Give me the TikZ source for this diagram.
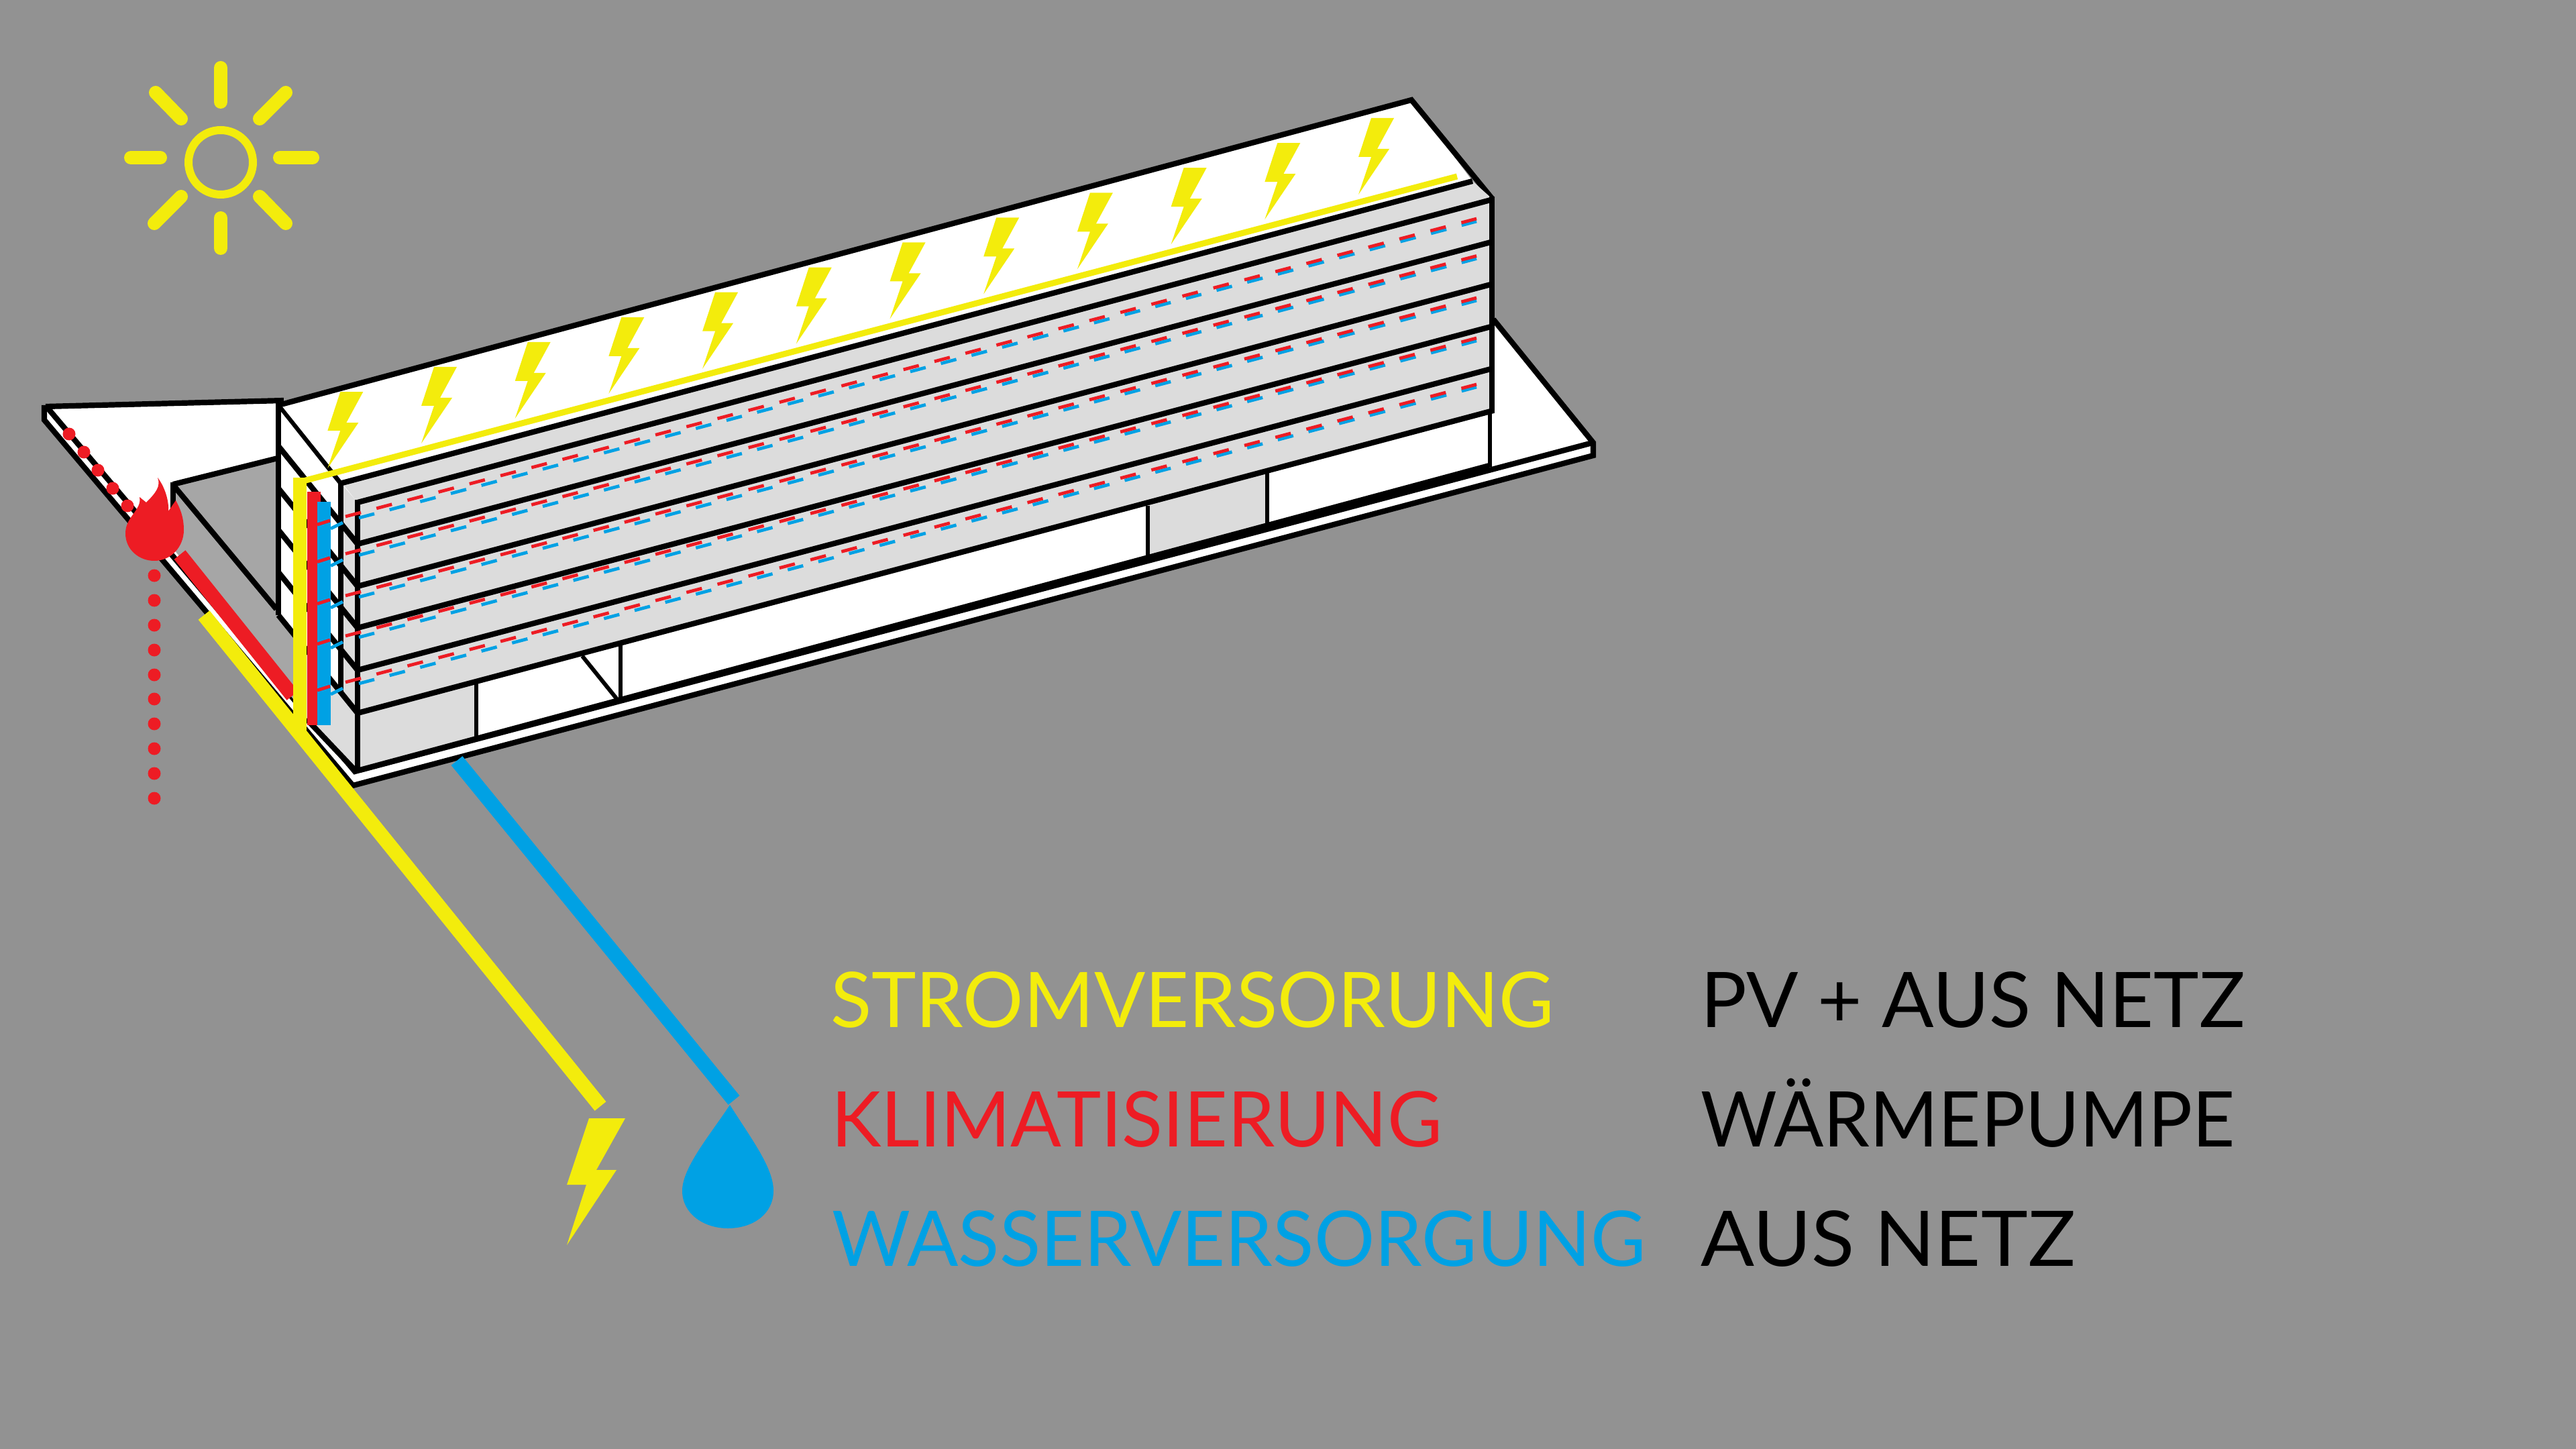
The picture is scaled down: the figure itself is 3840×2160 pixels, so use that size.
\documentclass[tikz,border=0pt]{standalone}
\usepackage{fontspec}
\usepackage{graphicx}
\setmainfont{Lato}
\definecolor{bgc}{RGB}{146,146,146}
\definecolor{yel}{RGB}{243,236,12}
\definecolor{redc}{RGB}{237,28,36}
\definecolor{blu}{RGB}{0,161,228}
\definecolor{flr}{RGB}{220,220,220}
\definecolor{yard}{RGB}{166,166,166}
\tikzset{
  ln/.style={draw=black,line width=2.05pt,line cap=butt,line join=miter},
  thin ln/.style={draw=black,line width=1.5pt},
  ray/.style={draw=yel,line width=5pt,line cap=round},
  pipe/.style={line width=5.4pt,line cap=butt},
  reddash/.style={draw=redc,line width=1.2pt,dash pattern=on 5.95pt off 5.995pt},
  bludash/.style={draw=blu,line width=1.2pt,dash pattern=on 5.95pt off 5.86pt},
  stub/.style={line width=1.2pt},
  lab/.style={anchor=base west,inner sep=0pt,outer sep=0pt}
}
\newcommand{\labtext}[2]{\resizebox{#1pt}{\height}{\fontsize{28.6pt}{30pt}\selectfont #2}}
\begin{document}
\begin{tikzpicture}[x=0.25pt,y=-0.25pt]
\useasboundingbox (0,0) rectangle (3840,2160);
\fill[bgc] (0,0) rectangle (3840,2160);

% sun
\draw[yel,line width=3pt] (329,242) circle (48);
\draw[ray] (329,101) -- (329,152);
\draw[ray] (329,325) -- (329,370);
\draw[ray] (195,235) -- (239,235);
\draw[ray] (417,235) -- (466,235);
\draw[ray] (232,138) -- (270,177);
\draw[ray] (426,138) -- (387,177);
\draw[ray] (230,333) -- (270,293);
\draw[ray] (426,333) -- (387,293);

% site slab
\fill[white] (68,606) -- (423,597) -- (2226,476) -- (2375,660) -- (2375,679) -- (526,1171) -- (66,626) -- cycle;
\draw[ln] (68,606) -- (423,597);
\draw[ln] (2226,476) -- (2375,660) -- (2375,679) -- (526,1171) -- (66,626) -- (66,604);
\draw[ln] (70,607) -- (529,1150) -- (2374,660);

% courtyard
\fill[yard] (258,722) -- (414,682) -- (414,916) -- (445,960) -- (445,1052) -- (260,820) -- cycle;
\draw[ln] (258,722) -- (414,683);
\draw[ln] (258,719) -- (258,775);
\draw[ln] (259,724) -- (412,908);

% left end of the building
\fill[white] (417,604) -- (508,720) -- (508,1032) -- (417,917) -- cycle;
\fill[flr] (508,720) -- (533,749) -- (533,1150) -- (457,1070) -- (436,941) -- (508,1032) -- cycle;
\fill[flr] (436,941) -- (508,1032) -- (457,1070) -- cycle;
\draw[ln] (415,597) -- (415,917);
\draw[ln] (415,602) -- (510,722);
\foreach \y in {811,874,936,999,1063}{
  \draw[ln] (415,{\y-146}) -- (533,\y);
}
\draw[ln] (508,720) -- (508,1032);
\draw[ln] (457,1072) -- (531,1150);

% roof
\fill[white] (416,600) -- (2104,149) -- (2195,270) -- (512,720) -- cycle;
\draw[ln] (415,604) -- (2104,149) -- (2225,297);
\fill[flr] (510,720) -- (2195,270) -- (2225,297) -- (533,749) -- cycle;
\draw[ln] (510,720) -- (2195,270);

% roof bolts
\foreach \i in {0,...,11}{
  \begin{scope}[shift={({2078-139.7*\i},{176+37.1*\i})}]
    \fill[yel] (0,0) -- (-34,0) -- (-53,58) -- (-34,58) -- (-53,114) -- (-7,46) -- (-25,46) -- cycle;
  \end{scope}
}

% facade
\fill[flr] (533,749) -- (2225,297) -- (2225,612) -- (533,1063) -- cycle;
\fill[white] (533,1063) -- (2222,612) -- (2222,694) -- (533,1149) -- cycle;
\fill[flr] (533,1063) -- (710,1016) -- (710,1101) -- (533,1149) -- cycle;
\fill[flr] (1711,752) -- (1889,703) -- (1889,783) -- (1711,831) -- cycle;
\foreach \a/\b in {749/297,811/360,874/423,936/486,999/549,1063/612}{
  \draw[ln] (533,\a) -- (2226,\b);
}
\draw[ln] (533,745) -- (533,1150);
\draw[ln] (2224,293) -- (2224,616);
\draw[ln] (536,1148) -- (2220,694);
\draw[thin ln] (710,1018) -- (710,1102);
\draw[thin ln] (925,961) -- (925,1045);
\draw[thin ln] (868,978) -- (922,1045);
\draw[thin ln] (1711,754) -- (1711,832);
\draw[thin ln] (1889,705) -- (1889,784);
\draw[thin ln] (2221,612) -- (2221,696);

% blue and red service lines on each floor
\foreach \d in {0,55.5,118,178,247}{
  \draw[bludash] (535,{772+\d}) -- (2201,{330+\d});
  \draw[reddash] (515,{770+\d}) -- (2201,{326+\d});
}

% heating feed and flame
\draw[redc,pipe] (268,827) -- (436,1037);
\foreach \p in {(103,647),(125,674),(146,701),(168,728),(190,754)}{
  \fill[redc] \p circle (9.5);
}
\foreach \y in {858,895,932,969,1006,1042,1079,1116,1153,1190}{
  \fill[redc] (230,\y) circle (9.5);
}
\fill[redc] (235,712) .. controls (240,725) and (232,735) .. (218,749)
  -- (208,741) .. controls (212,760) and (187,770) .. (187,795)
  .. controls (187,820) and (208,836) .. (230,836)
  .. controls (255,836) and (274,815) .. (274,790)
  .. controls (274,770) and (268,757) .. (262,746)
  -- (251,762) .. controls (252,745) and (245,725) .. (235,712) -- cycle;

% vertical risers
\fill[redc] (458,733) rectangle (478,1081);
\fill[blu] (473,748) rectangle (493,1081);
\foreach \d in {0,55.5,118,178,247}{
  \draw[redc,stub] (473,{782+\d}) -- (492,{776+\d});
  \draw[blu,stub] (493,{788+\d}) -- (511,{779+\d});
}

% supply lines
\draw[blu,pipe] (681,1134) -- (1094,1640);
\fill[blu] (1088,1647) .. controls (1060,1690) and (1017,1740) .. (1017,1775)
  .. controls (1017,1810) and (1050,1831) .. (1085,1831)
  .. controls (1122,1831) and (1153,1810) .. (1153,1775)
  .. controls (1153,1740) and (1118,1695) .. (1088,1647) -- cycle;
\draw[yel,line width=2.25pt] (452,717) -- (2172,263);
\fill[yel] (437,712) rectangle (457,1095);
\draw[yel,pipe] (304,917) -- (895,1649);
\fill[yel] (878,1667) -- (932,1667) -- (889,1744) -- (919,1744) -- (845,1856) -- (874,1766) -- (845,1766) -- cycle;

% legend
\node[lab,text=yel] (strom) at (1238,1531) {\labtext{269.5}{STROMVERSORUNG}};
\node[lab,text=redc] (klima) at (1239,1709) {\labtext{227.75}{KLIMATISIERUNG}};
\node[lab,text=blu] (wasser) at (1240,1887) {\labtext{303.25}{WASSERVERSORGUNG}};
\node[lab,text=black] (pv) at (2535,1531) {\labtext{203}{PV + AUS NETZ}};
\node[lab,text=black] (wp) at (2535,1709) {\labtext{199}{WÄRMEPUMPE}};
\node[lab,text=black] (netz) at (2535,1887) {\labtext{139.75}{AUS NETZ}};
\end{tikzpicture}
\end{document}
